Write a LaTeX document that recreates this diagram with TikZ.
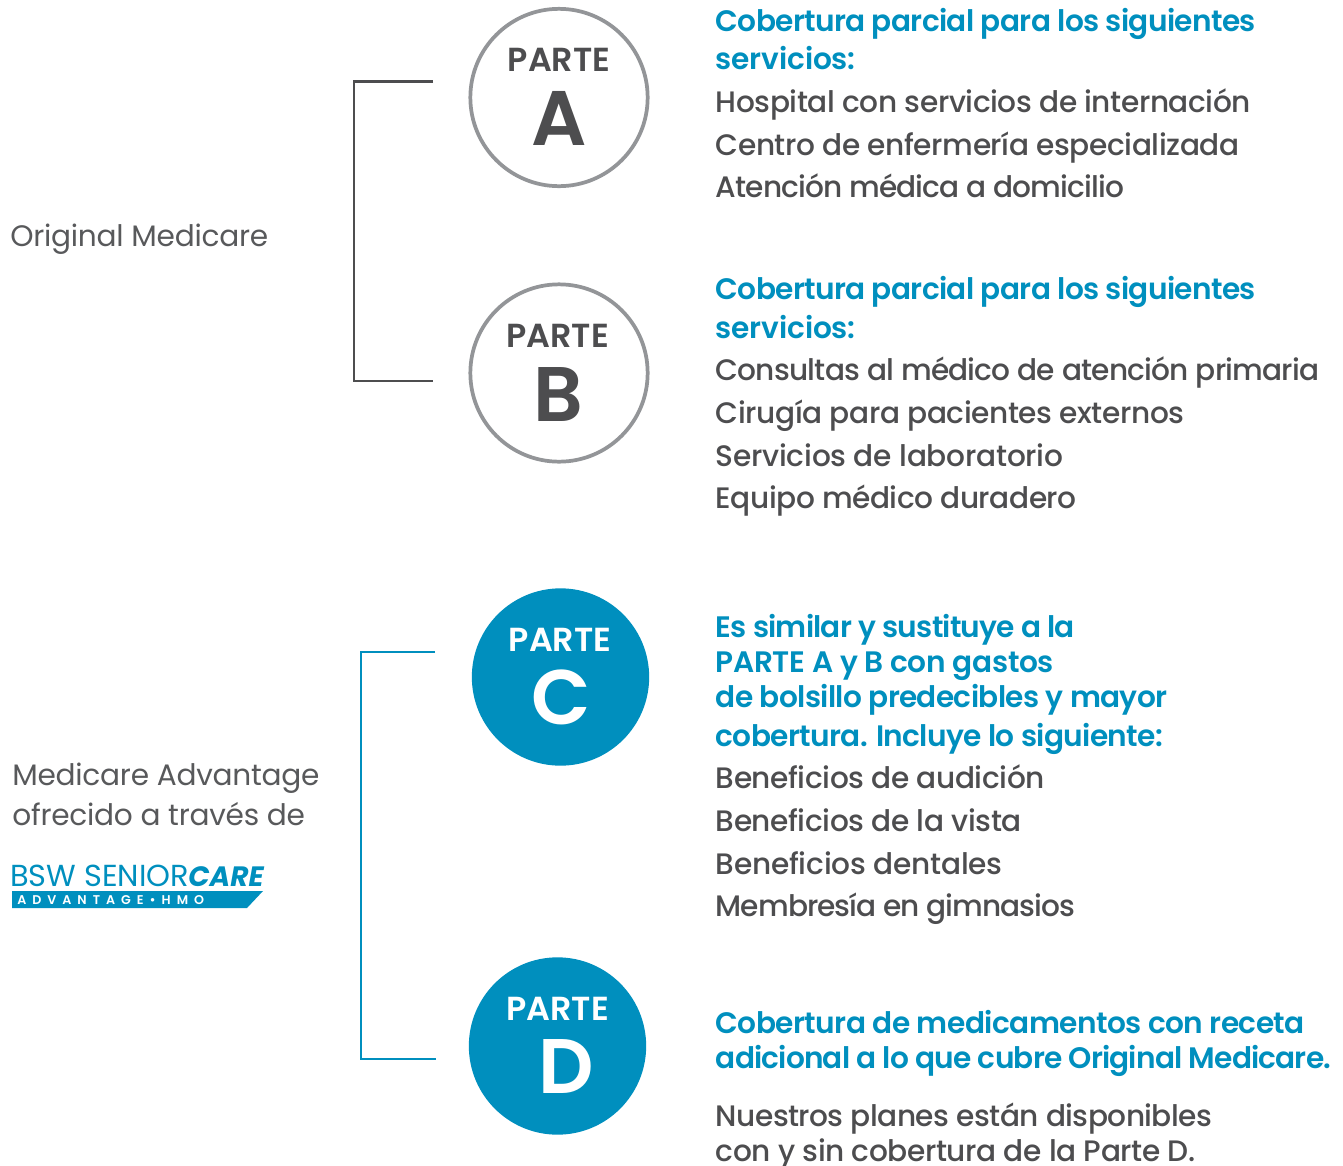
\documentclass[tikz,border=0pt]{standalone}
\usepackage{fontspec}
\setmainfont{Poppins}
\newfontfamily\sidefont[LetterSpace=-0.8]{Poppins}
\newfontfamily\medfont[LetterSpace=-1.4]{Poppins Medium}
\newfontfamily\semifont[LetterSpace=-2.2]{Poppins SemiBold}
\newfontfamily\partefont{Poppins SemiBold}
\newcommand{\lgap}{\hspace{4.5pt}}
\newcommand{\lsp}[1]{\addfontfeature{LetterSpace=#1}}
\definecolor{bluec}{HTML}{008FBE}
\definecolor{grayt}{HTML}{4D4D4F}
\definecolor{ringc}{HTML}{939598}
\definecolor{lablc}{HTML}{58595B}
\tikzset{
  head/.style={anchor=base west,inner sep=0pt,text=bluec,font=\semifont\fontsize{22.2}{24}\selectfont},
  body/.style={anchor=base west,inner sep=0pt,text=grayt,font=\medfont\fontsize{22.2}{24}\selectfont},
  side/.style={anchor=base west,inner sep=0pt,text=lablc,font=\sidefont\fontsize{22.2}{24}\selectfont},
  ringed/.style={circle,draw=ringc,line width=2.8pt,minimum size=133pt,inner sep=0pt,fill=white},
  solidc/.style={circle,fill=bluec,minimum size=133pt,inner sep=0pt},
  parte/.style={anchor=base,inner sep=0pt,font=\partefont\fontsize{25}{26}\selectfont},
  letter/.style={anchor=base,inner sep=0pt,font=\partefont\fontsize{58}{60}\selectfont},
}
\begin{document}
\begin{tikzpicture}[x=0.75pt,y=-0.75pt]
\useasboundingbox (0,0) rectangle (1343,1165);
% circles
\node[ringed] (ca) at (559,97.5) {};
\node[ringed] (cb) at (559,373) {};
\node[solidc] (cc) at (560.5,677) {};
\node[solidc] (cd) at (557.5,1046) {};
\node[parte,text=grayt] (pa) at (559,71.5) {PARTE};
\node[letter,text=grayt] (la) at (559,145) {A};
\node[parte,text=grayt] (pb) at (557.5,347.5) {PARTE};
\node[letter,text=grayt] (lb) at (558,421) {B};
\node[parte,text=white] (pc) at (560,651) {PARTE};
\node[letter,text=white] (lc) at (561,724.5) {C};
\node[parte,text=white] (pd) at (557.5,1020) {PARTE};
\node[letter,text=white] (ld) at (566,1093) {D};
% brackets
\coordinate (a1) at (433,81.5);
\coordinate (a2) at (433,381);
\coordinate (c1) at (435,652);
\coordinate (c2) at (436,1059);
\draw[grayt,line width=2.2pt] (a1) -- (354,81.5) -- (354,381) -- (a2);
\draw[bluec,line width=2.2pt] (c1) -- (361,652) -- (361,1059) -- (c2);
% left labels
\node[side] (om) at (10,246) {Original Medicare};
\node[side] (ma) at (12,785) {Medicare Advantage};
\node[side] (of) at (12,825) {ofrecido a través de};
% logo
\fill[bluec] (12,891) -- (263,891) -- (247,908) -- (12,908) -- cycle;
\node[anchor=base west,inner sep=0pt,text=bluec,font=\fontsize{22.8}{24}\selectfont] (l1) at (10,886) {BSW SENIOR};
\node[anchor=base east,inner sep=0pt,text=bluec,font=\bfseries\itshape\fontsize{21}{24}\selectfont] (l2) at (264,886) {CARE};
\node[anchor=base west,inner sep=0pt,text=white,font=\partefont\fontsize{9.5}{10}\selectfont] (l3) at (17,904) {A\lgap D\lgap V\lgap A\lgap N\lgap T\lgap A\lgap G\lgap E\lgap •\lgap H\lgap M\lgap O};
% part A
\node[head] (t1) at (715.5,31) {Cobertura parcial para los siguientes};
\node[head] (t2) at (715.5,69) {\lsp{-0.5}servicios:};
\node[body] (t3) at (715.5,112) {Hospital con servicios de internación};
\node[body] (t4) at (715.5,155) {Centro de enfermería especializada};
\node[body] (t5) at (715.5,197) {\lsp{-2.9}Atención médica a domicilio};
% part B
\node[head] (t6) at (715.5,299) {Cobertura parcial para los siguientes};
\node[head] (t7) at (715.5,338) {\lsp{-0.5}servicios:};
\node[body] (t8) at (715.5,380) {\lsp{-2.65}Consultas al médico de atención primaria};
\node[body] (t9) at (715.5,423) {Cirugía para pacientes externos};
\node[body] (t10) at (715.5,466) {\lsp{-0.8}Servicios de laboratorio};
\node[body] (t11) at (715.5,508) {\lsp{-1.6}Equipo médico duradero};
% part C
\node[head] (t12) at (715.5,637) {\lsp{-2.7}Es similar y sustituye a la};
\node[head] (t13) at (715.5,672) {\lsp{-1.1}PARTE A y B con gastos};
\node[head] (t14) at (715.5,707) {de bolsillo predecibles y mayor};
\node[head] (t15) at (715.5,746) {cobertura. Incluye lo siguiente:};
\node[body] (t16) at (715.5,788) {Beneficios de audición};
\node[body] (t17) at (715.5,831) {Beneficios de la vista};
\node[body] (t18) at (715.5,874) {\lsp{-0.7}Beneficios dentales};
\node[body] (t19) at (715.5,916) {\lsp{-3.2}Membresía en gimnasios};
% part D
\node[head] (t20) at (715.5,1033) {\lsp{-1.9}Cobertura de medicamentos con receta};
\node[head] (t21) at (715.5,1068) {\lsp{-2.75}adicional a lo que cubre Original Medicare.};
\node[body] (t22) at (715.5,1126) {\lsp{-1.8}Nuestros planes están disponibles};
\node[body] (t23) at (715.5,1161) {con y sin cobertura de la Parte D.};
\end{tikzpicture}
\end{document}
